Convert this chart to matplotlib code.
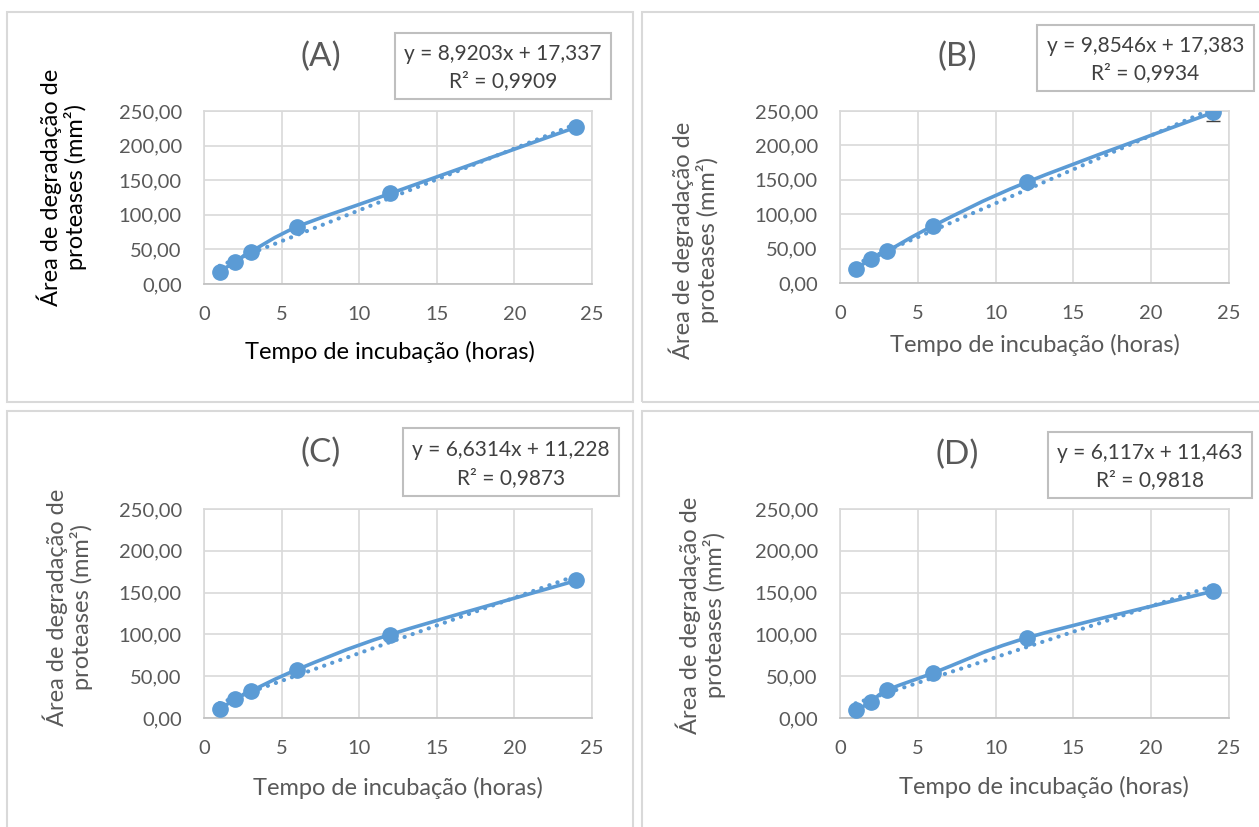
import numpy as np
import matplotlib
matplotlib.use('Agg')
import matplotlib.pyplot as plt
from matplotlib.path import Path
from matplotlib.patches import PathPatch, Rectangle
from matplotlib.ticker import FuncFormatter

plt.rcParams['font.family'] = ['Lato', 'DejaVu Sans']

# Data
hours = [1, 2, 3, 6, 12, 24]
area_a = [17.9, 31.9, 46.3, 82.5, 130.8, 226.8]
area_b = [20.3, 34.8, 45.9, 83.2, 146.5, 248.1]
area_c = [10.4, 22.4, 32.0, 57.9, 99.8, 164.5]
area_d = [9.2, 19.2, 33.1, 53.9, 95.8, 151.8]
err_b = [0.0, 0.0, 0.0, 0.0, 0.0, 12.5]

panel_names = ['(A)', '(B)', '(C)', '(D)']
slopes = [8.9203, 9.8546, 6.6314, 6.117]
intercepts = [17.337, 17.383, 11.228, 11.463]
eq_texts = ['y = 8,9203x + 17,337', 'y = 9,8546x + 17,383',
            'y = 6,6314x + 11,228', 'y = 6,117x + 11,463']
r2_texts = ['R² = 0,9909', 'R² = 0,9934', 'R² = 0,9873', 'R² = 0,9818']
y_ticks = [0, 50, 100, 150, 200, 250]
x_ticks = [0, 5, 10, 15, 20, 25]

W, H = 1259, 827
BLUE = '#5B9BD5'
GREY = '#595959'


def fx(px):
    return px / W


def fy(py):
    return 1 - py / H


def smooth_path(x, y):
    # Excel-like smoothed line: cubic bezier segments through the points
    pts = np.column_stack([x, y]).astype(float)
    n = len(pts)
    verts = [pts[0]]
    codes = [Path.MOVETO]
    for i in range(n - 1):
        p0 = pts[max(i - 1, 0)]
        p1 = pts[i]
        p2 = pts[i + 1]
        p3 = pts[min(i + 2, n - 1)]
        verts += [p1 + (p2 - p0) / 6, p2 - (p3 - p1) / 6, p2]
        codes += [Path.CURVE4] * 3
    return Path(verts, codes)


# layout in pixels: plot box, panel border, title, eq box, ylabel, xlabel
layout = [
    dict(plot=(204, 111, 592, 284), border=(7, 12, 633, 402), title=(321, 57),
         eqbox=(395, 33, 611, 99), ylab=(62, 187), xlab=(390, 352), labcol='black'),
    dict(plot=(840, 111, 1229, 283), border=(642, 12, 1262, 402), title=(957, 57),
         eqbox=(1037, 25, 1254, 91), ylab=(694, 240), xlab=(1035, 345), labcol=GREY),
    dict(plot=(204, 509, 592, 718), border=(7, 411, 633, 830), title=(321, 453),
         eqbox=(403, 428, 619, 496), ylab=(68, 607), xlab=(398, 788), labcol=GREY),
    dict(plot=(840, 509, 1229, 718), border=(642, 411, 1262, 830), title=(957, 455),
         eqbox=(1048, 432, 1252, 498), ylab=(701, 615), xlab=(1044, 787), labcol=GREY),
]
series = [area_a, area_b, area_c, area_d]
errors = [None, err_b, None, None]

fig = plt.figure(figsize=(W / 100, H / 100), dpi=100)

for i in range(4):
    lay = layout[i]
    vals = series[i]

    bx0, by0, bx1, by1 = lay['border']
    fig.patches.append(Rectangle((fx(bx0), fy(by1)), (bx1 - bx0) / W, (by1 - by0) / H,
                                 transform=fig.transFigure, fill=False,
                                 edgecolor='#d9d9d9', lw=1.5))

    l, t, r, b = lay['plot']
    ax = fig.add_axes([fx(l), fy(b), (r - l) / W, (b - t) / H])

    # smoothed series line + markers
    ax.add_patch(PathPatch(smooth_path(hours, vals), fill=False, edgecolor=BLUE,
                           lw=2.6, zorder=3, capstyle='round'))
    if errors[i] is not None:
        ax.errorbar(hours, vals, yerr=errors[i], fmt='none', ecolor='#404040',
                    elinewidth=1.2, capsize=5, zorder=2)
    ax.plot(hours, vals, 'o', color=BLUE, ms=11, zorder=4)

    # linear trendline (dotted)
    tx = np.array([hours[0], hours[-1]])
    ax.plot(tx, slopes[i] * tx + intercepts[i], color=BLUE, lw=3.0,
            linestyle=(0, (0.05, 2.0)), dash_capstyle='round', zorder=3)

    ax.set_xlim(0, 25)
    ax.set_ylim(0, 250)
    ax.set_xticks(x_ticks)
    ax.set_yticks(y_ticks)
    ax.yaxis.set_major_formatter(FuncFormatter(lambda v, p: f'{v:.2f}'.replace('.', ',')))
    ax.tick_params(length=0, labelsize=14.5, labelcolor=GREY)
    ax.tick_params(axis='x', pad=16)
    ax.tick_params(axis='y', pad=16)
    ax.grid(True, color='#d9d9d9', lw=1.2)
    ax.set_axisbelow(True)
    for side in ['left', 'right', 'top']:
        ax.spines[side].set_color('#d9d9d9')
        ax.spines[side].set_linewidth(1.2)
    ax.spines['bottom'].set_color('#bfbfbf')
    ax.spines['bottom'].set_linewidth(1.2)

    # titles and labels
    tx_, ty_ = lay['title']
    fig.text(fx(tx_), fy(ty_), panel_names[i], ha='center', va='center',
             fontsize=24, color=GREY)
    yx, yy = lay['ylab']
    fig.text(fx(yx), fy(yy), 'Área de degradação de\nproteases (mm²)',
             rotation=90, ha='center', va='center', multialignment='center',
             fontsize=17, color=lay['labcol'], linespacing=1.1)
    xx, xy = lay['xlab']
    fig.text(fx(xx), fy(xy), 'Tempo de incubação (horas)', ha='center', va='center',
             fontsize=17, color=lay['labcol'])

    # equation box
    ex0, ey0, ex1, ey1 = lay['eqbox']
    fig.patches.append(Rectangle((fx(ex0), fy(ey1)), (ex1 - ex0) / W, (ey1 - ey0) / H,
                                 transform=fig.transFigure, fill=False,
                                 edgecolor='#bfbfbf', lw=1.5))
    fig.text(fx((ex0 + ex1) / 2), fy(ey0 + (ey1 - ey0) * 0.32), eq_texts[i],
             ha='center', va='center', fontsize=15, color='#404040')
    fig.text(fx((ex0 + ex1) / 2), fy(ey0 + (ey1 - ey0) * 0.73), r2_texts[i],
             ha='center', va='center', fontsize=15, color='#404040')

fig.savefig('out.png', dpi=100, facecolor='white')
